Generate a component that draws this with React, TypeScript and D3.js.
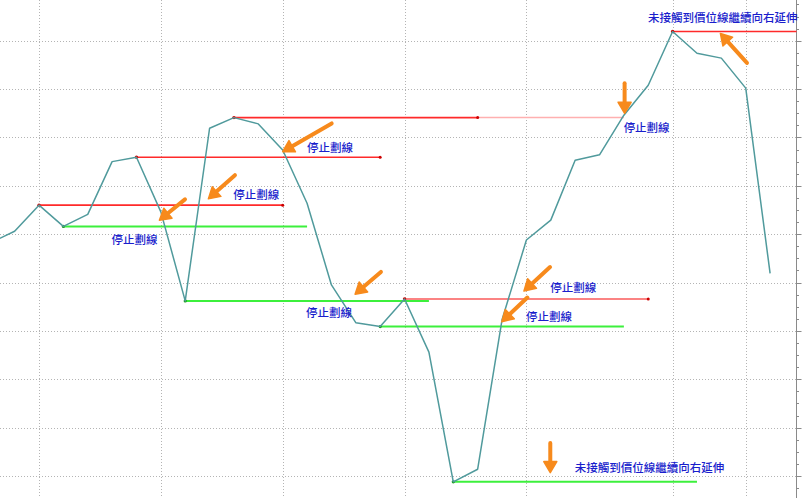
import React from "react";
import * as d3 from "d3";

// bar index (x) and close price (y)
const barIndex = [-2, -1, 0, 1, 2, 3, 4, 5, 6, 7, 8, 9, 10, 11, 12, 13, 14, 15, 16, 17, 18, 19, 20, 21, 22, 23, 24, 25, 26, 27, 28, 29, 30];
const closes = [58.2, 60.6, 66.0, 61.6, 64.1, 75.0, 75.9, 64.6, 46.2, 81.9, 84.1, 82.8, 77.4, 66.4, 49.5, 41.7, 40.9, 46.6, 35.6, 8.8, 11.4, 42.3, 58.8, 62.9, 75.3, 76.4, 84.6, 90.8, 101.9, 97.4, 96.4, 90.2, 51.9];

// price-level lines: start bar, end bar (solid), optional faded extension end
const resistFrom = [0, 4, 8, 15, 26];
const resistTo = [10, 14, 18, 25, 31];
const resistExt = [null, null, 24, null, null];
const supportFrom = [1, 6, 14, 17];
const supportTo = [11, 16, 24, 27];

// grid
const gridBars = [0, 5, 10, 15, 20, 26, 29];
const gridPrices = [100, 90, 80, 70, 60, 50, 40, 30, 20, 10];
const minorTickPrices = [107.5, 105, 102.5, 100, 97.5, 95, 92.5, 90, 87.5, 85, 82.5, 80, 77.5, 75, 72.5, 70, 67.5, 65, 62.5, 60, 57.5, 55, 52.5, 50, 47.5, 45, 42.5, 40, 37.5, 35, 32.5, 30, 27.5, 25, 22.5, 20, 17.5, 15, 12.5, 10, 7.5];

// annotations (bar, price)
const arrowTail = [[12.01, 82.9], [8.04, 72.2], [5.99, 67.2], [14.03, 52.2], [20.97, 53.2], [20.04, 46.9], [24.03, 91.2], [29.05, 95.4], [20.98, 16.8]];
const arrowTip = [[10.0, 77.05], [6.95, 67.3], [4.94, 62.9], [12.97, 47.6], [19.9, 48.25], [18.99, 41.9], [24.03, 85.0], [27.96, 101.5], [20.98, 10.7]];
const labelText = ["停止劃線", "停止劃線", "停止劃線", "停止劃線", "停止劃線", "停止劃線", "停止劃線", "未接觸到價位線繼續向右延伸", "未接觸到價位線繼續向右延伸"];
const labelPos = [[11.0, 78.0], [7.97, 68.24], [2.98, 58.94], [10.96, 43.97], [20.98, 49.14], [19.98, 43.14], [23.99, 82.1], [24.99, 104.96], [21.98, 11.92]];

const W = 802;
const H = 498;
const AXIS_X = 796.5;

export default function App() {
  const x = d3.scaleLinear().domain([0, 30]).range([39, 770.1]);
  const y = d3.scaleLinear().domain([100, 10]).range([40.7, 476]);
  const pts = barIndex.map((b, i) => [x(b), y(closes[i])] as [number, number]);
  const line = d3.line<[number, number]>().x((d) => d[0]).y((d) => d[1]);
  const priceAt = (b: number) => closes[barIndex.indexOf(b)];
  const xEnd = (b: number) => (b > 30 ? AXIS_X : x(b));

  const arrows = arrowTail.map((t, i) => {
    const x1 = x(t[0]), y1 = y(t[1]);
    const x2 = x(arrowTip[i][0]), y2 = y(arrowTip[i][1]);
    const dx = x2 - x1, dy = y2 - y1;
    const len = Math.hypot(dx, dy);
    const ux = dx / len, uy = dy / len;
    const hl = 11, hw = 6.5;
    const bx = x2 - ux * hl, by = y2 - uy * hl;
    const head = `M${x2},${y2} L${bx - uy * hw},${by + ux * hw} L${bx + uy * hw},${by - ux * hw} Z`;
    return { x1, y1, bx: x2 - ux * (hl - 2), by: y2 - uy * (hl - 2), head };
  });

  return (
    <svg width={W} height={H} style={{ position: "absolute", left: 0, top: 0, display: "block", background: "#fff" }}>
      <rect x={0} y={0} width={W} height={H} fill="#fff" />
      {/* grid */}
      <g stroke="#b4b4b4" strokeWidth={1} strokeDasharray="1 2">
        {gridPrices.map((p) => (
          <line key={"h" + p} x1={0} x2={AXIS_X} y1={Math.round(y(p)) + 0.5} y2={Math.round(y(p)) + 0.5} />
        ))}
        {gridBars.map((b) => (
          <line key={"v" + b} x1={Math.round(x(b)) + 0.5} x2={Math.round(x(b)) + 0.5} y1={0} y2={H} />
        ))}
      </g>
      {/* right axis */}
      <line x1={AXIS_X} x2={AXIS_X} y1={0} y2={H} stroke="#8a8a8a" strokeWidth={1} />
      <g stroke="#8a8a8a" strokeWidth={1}>
        {minorTickPrices.map((p) => {
          const major = gridPrices.includes(p);
          const yy = Math.round(y(p)) + 0.5;
          return <line key={"t" + p} x1={AXIS_X} x2={AXIS_X + (major ? 5 : 2.5)} y1={yy} y2={yy} />;
        })}
      </g>
      {/* faded extensions */}
      {resistFrom.map((f, i) =>
        resistExt[i] != null ? (
          <line key={"re" + i} x1={xEnd(resistTo[i])} x2={x(resistExt[i] as number)} y1={y(priceAt(f))} y2={y(priceAt(f))} stroke="#ffb0b0" strokeWidth={1.5} />
        ) : null
      )}
      {/* support lines */}
      {supportFrom.map((f, i) => (
        <g key={"s" + i}>
          <line x1={x(f)} x2={xEnd(supportTo[i])} y1={y(priceAt(f))} y2={y(priceAt(f))} stroke="#3cf03c" strokeWidth={2} />
          <circle cx={x(f)} cy={y(priceAt(f))} r={1.6} fill="#1a9a1a" />
        </g>
      ))}
      {/* resistance lines */}
      {resistFrom.map((f, i) => (
        <g key={"r" + i}>
          <line x1={x(f)} x2={xEnd(resistTo[i])} y1={y(priceAt(f))} y2={y(priceAt(f))} stroke={i === 3 ? "#fa5a5a" : "#ff2a2a"} strokeWidth={1.6} />
          <circle cx={x(f)} cy={y(priceAt(f))} r={1.7} fill="#cc0000" />
          {resistTo[i] <= 30 ? <circle cx={xEnd(resistTo[i])} cy={y(priceAt(f))} r={1.5} fill="#cc0000" /> : null}
        </g>
      ))}
      {/* price line */}
      <path d={line(pts) || ""} fill="none" stroke="#509a9c" strokeWidth={1.5} strokeLinejoin="round" />
      {/* arrows */}
      <g fill="#f78a1c" stroke="#f78a1c">
        {arrows.map((a, i) => (
          <g key={"a" + i}>
            <line x1={a.x1} y1={a.y1} x2={a.bx} y2={a.by} strokeWidth={4} strokeLinecap="round" />
            <path d={a.head} strokeWidth={1.5} strokeLinejoin="round" />
          </g>
        ))}
      </g>
      {/* labels */}
      <g fontFamily="'Noto Sans CJK TC', 'Noto Sans CJK SC', sans-serif" fontSize={11.5} fontWeight={500} fill="#1a1ecc">
        {labelText.map((t, i) => (
          <text key={"l" + i} x={x(labelPos[i][0])} y={y(labelPos[i][1])} dominantBaseline="central">
            {t}
          </text>
        ))}
      </g>
    </svg>
  );
}
